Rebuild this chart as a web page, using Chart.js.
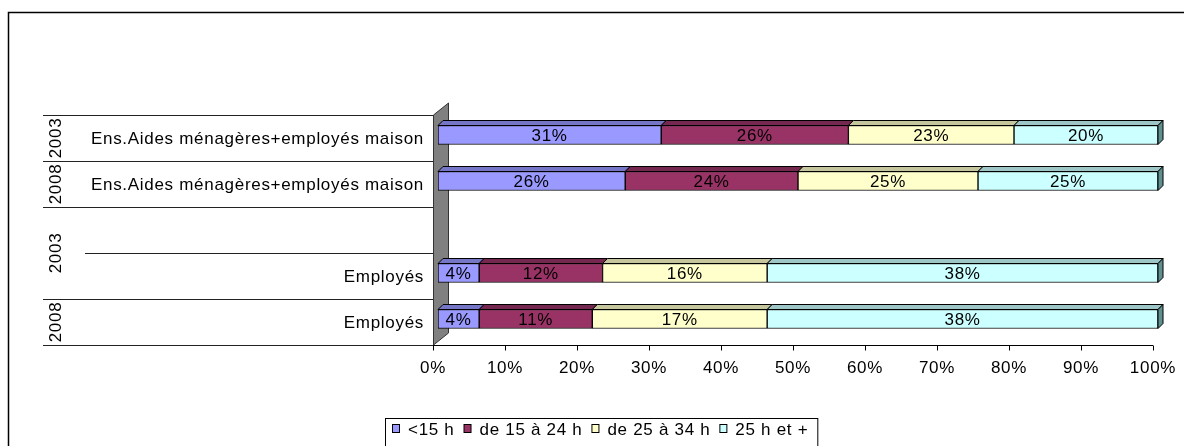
<!DOCTYPE html>
<html><head><meta charset="utf-8">
<script src="https://cdn.jsdelivr.net/npm/chart.js@4/dist/chart.umd.min.js"></script>
<style>
html,body{margin:0;padding:0;background:#fff;overflow:hidden;width:1184px;height:446px}
#c{position:absolute;left:0;top:0}
</style></head>
<body><canvas id="c" width="1200" height="470"></canvas>
<script>
// ---- data ----
const categories = ['Ens.Aides ménagères+employés maison', 'Ens.Aides ménagères+employés maison', '', 'Employés', 'Employés'];
const yearLabels = ['2003', '2008', '2003', '2008'];
const yearFirstRow = [0, 1, 2, 4];
const yearLastRow = [0, 1, 3, 4];
const seriesNames = ['<15 h', 'de 15 à 24 h', 'de 25 à 34 h', '25 h et +'];
const under15 = [31, 26, null, 4, 4];
const from15to24 = [26, 24, null, 12, 11];
const from25to34 = [23, 25, null, 16, 17];
const over25 = [20, 25, null, 38, 38];
const tickLabels = ['0%', '10%', '20%', '30%', '40%', '50%', '60%', '70%', '80%', '90%', '100%'];

// ---- styles ----
const FAMILY = '"Liberation Sans", Arial, sans-serif';
const FSIZE = 17;
const FONT = FSIZE + 'px ' + FAMILY;
const colors = ['#9999FF', '#993366', '#FFFFCC', '#CCFFFF'];
const topColors = ['#7676C6', '#75284F', '#C6C69E', '#9EC6C6'];
const sideColors = ['#5A5A96', '#5A1F3D', '#96967A', '#5F8F8F'];
const D = 5; // 3D depth

const raw = [under15, from15to24, from25to34, over25];
const totals = categories.map((_, j) => raw.reduce((s, a) => s + (a[j] || 0), 0));
const datasets = raw.map((arr, i) => ({
  label: seriesNames[i],
  rawValues: arr,
  data: arr.map((v, j) => v == null ? null : v / totals[j] * 100),
  backgroundColor: colors[i],
  borderColor: '#000',
  borderWidth: 1,
  borderSkipped: false,
  barThickness: 19
}));

const ls = (ctx) => { try { ctx.letterSpacing = '0.7px'; } catch (e) {} };

const deco = {
  id: 'deco',
  beforeUpdate(chart) { ls(chart.ctx); },
  beforeDraw(chart) {
    const ctx = chart.ctx; ls(ctx);
    const x = chart.scales.x, y = chart.scales.y;
    const band = y.getPixelForValue(1) - y.getPixelForValue(0);
    const b0 = y.getPixelForValue(0) - band / 2 + 3;
    const x0 = x.getPixelForValue(0) - D;
    ctx.save();
    // outer frame
    ctx.strokeStyle = '#000'; ctx.lineWidth = 1.5;
    ctx.strokeRect(8.5, 12.5, 1400, 800);
    // category separators
    ctx.lineWidth = 1; ctx.strokeStyle = '#222';
    for (let k = 0; k <= categories.length; k++) {
      const yy = Math.round(b0 + k * band) + 0.5;
      const startX = (k === 3) ? 85 : 43;
      ctx.beginPath(); ctx.moveTo(startX, yy); ctx.lineTo(x0, yy); ctx.stroke();
    }
    // year group labels
    ctx.fillStyle = '#000'; ctx.font = FONT; ctx.textAlign = 'center'; ctx.textBaseline = 'middle';
    yearLabels.forEach((t, g) => {
      const cy = b0 + (yearFirstRow[g] + yearLastRow[g] + 1) / 2 * band;
      ctx.save(); ctx.translate(56, cy); ctx.rotate(-Math.PI / 2); ctx.fillText(t, 0, 0); ctx.restore();
    });
    // back wall
    const wt = b0, wb = b0 + categories.length * band;
    ctx.fillStyle = '#808080'; ctx.strokeStyle = '#333';
    ctx.beginPath();
    ctx.moveTo(x0 + 0.5, wt); ctx.lineTo(x0 + 15.5, wt - 12); ctx.lineTo(x0 + 15.5, wb - 12); ctx.lineTo(x0 + 0.5, wb);
    ctx.closePath(); ctx.fill(); ctx.stroke();
    // x axis line and ticks
    ctx.strokeStyle = '#000';
    const ay = Math.round(wb) + 0.5;
    ctx.beginPath(); ctx.moveTo(x0, ay); ctx.lineTo(x.getPixelForValue(100) - D, ay); ctx.stroke();
    for (let v = 0; v <= 100; v += 10) {
      const tx = Math.round(x.getPixelForValue(v) - D) + 0.5;
      ctx.beginPath(); ctx.moveTo(tx, ay); ctx.lineTo(tx, ay + 5); ctx.stroke();
    }
    ctx.restore();
  },
  afterDatasetsDraw(chart) {
    const ctx = chart.ctx; ls(ctx);
    ctx.save();
    ctx.lineWidth = 1; ctx.strokeStyle = '#000';
    const nDs = chart.data.datasets.length;
    chart.data.datasets.forEach((ds, i) => {
      const meta = chart.getDatasetMeta(i);
      meta.data.forEach((el, j) => {
        if (ds.data[j] == null) return;
        const p = el.getProps(['x', 'y', 'base', 'height'], true);
        const top = p.y - p.height / 2, bot = p.y + p.height / 2;
        // top face
        ctx.fillStyle = topColors[i];
        ctx.beginPath();
        ctx.moveTo(p.base, top); ctx.lineTo(p.base + D, top - D); ctx.lineTo(p.x + D, top - D); ctx.lineTo(p.x, top);
        ctx.closePath(); ctx.fill(); ctx.stroke();
        // right face on last segment
        if (i === nDs - 1) {
          ctx.fillStyle = sideColors[i];
          ctx.beginPath();
          ctx.moveTo(p.x, top); ctx.lineTo(p.x + D, top - D); ctx.lineTo(p.x + D, bot - D); ctx.lineTo(p.x, bot);
          ctx.closePath(); ctx.fill(); ctx.stroke();
        }
        // value label
        ctx.fillStyle = '#000'; ctx.font = FONT; ctx.textAlign = 'center'; ctx.textBaseline = 'middle';
        ctx.fillText(ds.rawValues[j] + '%', (p.base + p.x) / 2, p.y + 1);
      });
    });
    ctx.restore();
  },
  afterDraw(chart) {
    const ctx = chart.ctx; ls(ctx);
    ctx.save();
    ctx.font = FONT; ctx.textBaseline = 'middle'; ctx.textAlign = 'left';
    const lx = 385, ly = 418, ty = 429;
    let cx = lx + 7;
    chart.data.datasets.forEach((ds, i) => {
      ctx.fillStyle = ds.backgroundColor; ctx.strokeStyle = '#000'; ctx.lineWidth = 1;
      ctx.fillRect(cx + 0.5, ty - 4.5, 7, 8); ctx.strokeRect(cx + 0.5, ty - 4.5, 7, 8);
      ctx.fillStyle = '#000';
      ctx.fillText(ds.label, cx + 16, ty + 1);
      cx = cx + 16 + ctx.measureText(ds.label).width + 9;
    });
    ctx.strokeStyle = '#000'; ctx.lineWidth = 1;
    ctx.strokeRect(lx + 0.5, ly + 0.5, cx - lx, 100);
    ctx.restore();
  }
};

new Chart(document.getElementById('c'), {
  type: 'bar',
  data: { labels: categories, datasets },
  options: {
    indexAxis: 'y',
    responsive: false,
    animation: false,
    devicePixelRatio: 1,
    layout: { padding: { left: 0, top: 112, right: 42, bottom: 0 } },
    plugins: { legend: { display: false }, tooltip: { enabled: false } },
    scales: {
      x: {
        stacked: true, min: 0, max: 100,
        grid: { display: false, drawTicks: false }, border: { display: false },
        ticks: { stepSize: 10, color: '#000', font: { family: FAMILY, size: FSIZE },
          padding: 16, labelOffset: -5, maxRotation: 0, autoSkip: false,
          callback: (v) => tickLabels[Math.round(v / 10)] },
        afterFit(s) { s.height = 128; }
      },
      y: {
        stacked: true,
        grid: { display: false, drawTicks: false }, border: { display: false },
        ticks: { color: '#000', font: { family: FAMILY, size: FSIZE },
          padding: 14, labelOffset: 4, autoSkip: false },
        afterFit(s) { s.width = 438; }
      }
    }
  },
  plugins: [deco]
});
</script>
</body></html>
